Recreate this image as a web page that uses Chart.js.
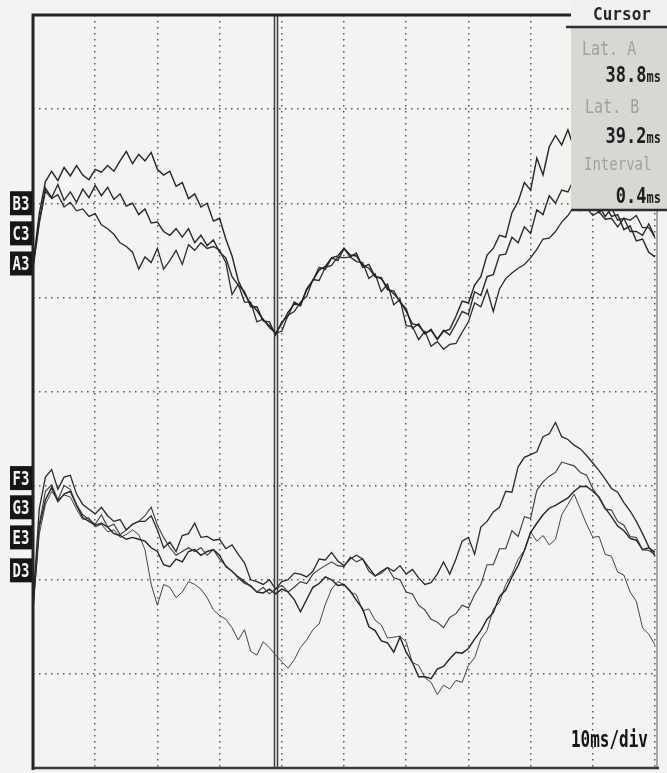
<!DOCTYPE html>
<html lang="en">
  <head>
    <meta charset="UTF-8" />
    <title>Evoked potentials - 10ms/div</title>
    <script src="https://cdn.jsdelivr.net/npm/chart.js"></script>
    <style>
      html,
      body {
        margin: 0;
        padding: 0;
        background: #f3f3f1;
      }

      #wrap {
        width: 667px;
        height: 773px;
      }
    </style>
  </head>
  <body>
    <div id="wrap"><canvas id="scope" width="667" height="773"></canvas></div>

    <script>
      // sweep time (ms) and trace amplitudes (screen divisions, 0 = bottom)
      const timeMs = [
        0, 1, 2, 3, 4, 5, 6, 7, 8, 9, 10, 11, 12, 13, 14, 15, 16, 17, 18, 19,
        20, 21, 22, 23, 24, 25, 26, 27, 28, 29, 30, 31, 32, 33, 34, 35, 36, 37,
        38, 39, 40, 41, 42, 43, 44, 45, 46, 47, 48, 49, 50, 51, 52, 53, 54, 55,
        56, 57, 58, 59, 60, 61, 62, 63, 64, 65, 66, 67, 68, 69, 70, 71, 72, 73,
        74, 75, 76, 77, 78, 79, 80, 81, 82, 83, 84, 85, 86, 87, 88, 89, 90, 91,
        92, 93, 94, 95, 96, 97, 98, 99, 100,
      ]

      const traceB3 = [
        5.34, 5.89, 6.23, 6.34, 6.24, 6.38, 6.29, 6.4, 6.3, 6.25, 6.36, 6.33,
        6.4, 6.34, 6.45, 6.55, 6.42, 6.52, 6.45, 6.54, 6.36, 6.3, 6.34, 6.18,
        6.22, 6.05, 6.1, 5.96, 6.0, 5.81, 5.84, 5.62, 5.44, 5.18,
        5.04, 4.93, 4.86, 4.76, 4.7, 4.62, 4.72, 4.84, 4.93, 4.92, 5.08, 5.18,
        5.29, 5.33, 5.42, 5.44, 5.52, 5.45, 5.44, 5.34, 5.31, 5.22, 5.2, 5.1,
        5.04, 4.96, 4.85, 4.72, 4.7, 4.62, 4.65, 4.56, 4.64, 4.66,
        4.8, 4.96, 4.94, 5.13, 5.22, 5.45, 5.52, 5.66, 5.64, 5.9, 6.02, 6.22,
        6.14, 6.48, 6.3, 6.6, 6.72, 6.62, 6.78, 6.58, 6.44, 6.18, 6.04, 5.9,
        5.98, 5.86, 5.88, 5.72, 5.76, 5.6, 5.62, 5.48, 5.43,
      ]
      const traceC3 = [
        5.34, 5.81, 6.16, 6.06, 6.2, 6.03, 6.12, 6.01, 6.15, 6.06, 6.19, 6.08,
        6.17, 6.04, 6.1, 5.97, 6.0, 5.88, 5.94, 5.79, 5.8, 5.7, 5.66, 5.73,
        5.64, 5.73, 5.58, 5.66, 5.55, 5.61, 5.48, 5.42, 5.22, 5.13,
        5.06, 4.9, 4.9, 4.75, 4.74, 4.6, 4.74, 4.8, 4.95, 4.91, 5.09, 5.18,
        5.32, 5.3, 5.42, 5.39, 5.52, 5.43, 5.47, 5.32, 5.35, 5.22, 5.21, 5.08,
        5.07, 4.95, 4.88, 4.67, 4.72, 4.61, 4.66, 4.55, 4.65, 4.6,
        4.72, 4.85, 4.82, 5.06, 5.02, 5.22, 5.24, 5.45, 5.46, 5.64, 5.58, 5.75,
        5.68, 5.93, 5.88, 6.08, 6.0, 6.14, 6.12, 6.26, 6.12, 6.1, 5.96, 5.97,
        5.86, 5.95, 5.82, 5.84, 5.7, 5.7, 5.66, 5.78, 5.64,
      ]
      const traceA3 = [
        5.3, 5.78, 6.13, 6.05, 6.09, 5.96, 6.01, 5.92, 5.94, 5.86, 5.89, 5.77,
        5.73, 5.67, 5.58, 5.54, 5.48, 5.3, 5.43, 5.37, 5.52, 5.3, 5.39, 5.5,
        5.35, 5.56, 5.5, 5.58, 5.52, 5.54, 5.5, 5.37, 5.03, 5.14,
        4.95, 4.95, 4.74, 4.77, 4.68, 4.62, 4.64, 4.81, 4.85, 4.95, 5.01, 5.19,
        5.18, 5.32, 5.34, 5.43, 5.42, 5.43, 5.38, 5.37, 5.2, 5.25, 5.06, 5.14,
        4.92, 4.98, 4.7, 4.69, 4.55, 4.64, 4.48, 4.53, 4.45, 4.5,
        4.51, 4.63, 4.74, 4.94, 4.9, 5.08, 4.85, 5.09, 5.2, 5.26, 5.31, 5.35,
        5.42, 5.51, 5.62, 5.63, 5.7, 5.8, 5.87, 5.97, 5.92, 5.95, 5.87, 5.91,
        5.83, 5.84, 5.75, 5.84, 5.82, 5.87, 5.74, 5.74, 5.64,
      ]

      const traceF3 = [
        1.74, 2.75, 3.09, 3.17, 2.96, 3.09, 3.11, 2.91, 2.8, 2.75, 2.7, 2.77,
        2.68, 2.62, 2.64, 2.53, 2.59, 2.62,
        2.62, 2.68, 2.53, 2.34, 2.4, 2.3, 2.47, 2.49, 2.6, 2.45, 2.46, 2.42,
        2.43, 2.33, 2.37, 2.27, 2.18, 2.0, 1.98, 1.95, 2.0, 1.9, 1.98, 2.0,
        2.07, 2.06, 2.03, 2.09, 2.22, 2.21, 2.29, 2.2,
        2.15, 2.22, 2.26, 2.22, 2.13, 2.04, 2.09, 2.13, 2.09, 2.15, 2.06, 2.11,
        2.02, 1.95, 1.97, 2.06, 2.19, 2.06, 2.22, 2.41, 2.45, 2.27, 2.56, 2.62,
        2.72, 2.77, 2.94, 2.93, 3.2, 3.3, 3.33, 3.36, 3.52, 3.55, 3.67, 3.52,
        3.49, 3.43, 3.39, 3.32, 3.24, 3.16, 3.07, 2.97, 2.93, 2.82, 2.73, 2.62,
        2.49, 2.35, 2.25,
      ]
      const traceG3 = [
        1.71, 2.59, 2.94, 3.01, 2.85, 3.0, 2.96, 2.8, 2.69, 2.64, 2.59, 2.69,
        2.56, 2.59, 2.48, 2.53, 2.59, 2.62,
        2.68, 2.77, 2.58, 2.45, 2.34, 2.26, 2.3, 2.34, 2.3, 2.34, 2.26, 2.32,
        2.22, 2.15, 2.09, 2.02, 1.96, 1.94, 1.87, 1.92, 1.85, 1.9, 1.94, 1.87,
        1.92, 1.98, 1.96, 2.06, 2.11, 2.15, 2.19, 2.15,
        2.14, 2.24, 2.19, 2.22, 2.09, 2.04, 2.07, 2.13, 2.02, 2.0, 1.87, 1.85,
        1.73, 1.68, 1.58, 1.55, 1.49, 1.6, 1.64, 1.73, 1.7, 1.84, 1.95, 2.16,
        2.16, 2.33, 2.33, 2.52, 2.46, 2.67, 2.65, 2.95, 3.04, 3.1, 3.14, 3.25,
        3.23, 3.21, 3.14, 3.11, 2.97, 2.87, 2.75, 2.74, 2.62, 2.58, 2.46, 2.45,
        2.32, 2.31, 2.27,
      ]
      const traceE3 = [
        1.7, 2.56, 2.85, 2.98, 2.83, 2.91, 2.94, 2.79, 2.66, 2.62, 2.58, 2.6,
        2.56, 2.49, 2.47, 2.43, 2.45, 2.43,
        2.41, 2.34, 2.3, 2.16, 2.14, 2.22, 2.19, 2.3, 2.32, 2.26, 2.3, 2.32,
        2.26, 2.14, 2.09, 2.03, 1.98, 1.93, 1.87, 1.86, 1.9, 1.85, 1.9, 1.87,
        1.79, 1.66, 1.79, 1.92, 1.96, 2.03, 2.0, 1.94,
        1.95, 1.88, 1.78, 1.69, 1.5, 1.46, 1.35, 1.33, 1.23, 1.39, 1.23, 1.12,
        0.97, 0.97, 0.95, 1.05, 1.08, 1.16, 1.23, 1.22, 1.27, 1.37, 1.46, 1.58,
        1.65, 1.82, 1.89, 2.03, 2.15, 2.31, 2.5, 2.6, 2.69, 2.76, 2.79, 2.83,
        2.87, 2.94, 2.99, 2.99, 2.94, 2.88, 2.76, 2.67, 2.57, 2.52, 2.44, 2.42,
        2.32, 2.34, 2.29,
      ]
      const traceD3 = [
        1.68, 2.48, 2.8, 2.94, 2.85, 2.9, 2.88, 2.75, 2.64, 2.66, 2.56, 2.59,
        2.51, 2.53, 2.45, 2.48, 2.53, 2.48,
        2.32, 1.95, 1.73, 1.95, 1.92, 1.81, 1.87, 1.98, 1.95, 1.9, 1.81, 1.68,
        1.62, 1.58, 1.49, 1.36, 1.47, 1.24, 1.2, 1.34, 1.28, 1.2, 1.13, 1.06,
        1.15, 1.28, 1.36, 1.47, 1.53, 1.74, 1.9, 1.98,
        1.95, 1.87, 1.84, 1.67, 1.69, 1.57, 1.52, 1.38, 1.39, 1.4, 1.34, 1.12,
        1.09, 0.96, 0.91, 0.78, 0.88, 0.84, 0.93, 0.91, 1.09, 1.17, 1.37, 1.46,
        1.69, 1.76, 1.95, 2.06, 2.22, 2.31, 2.51, 2.41, 2.47, 2.37, 2.43, 2.69,
        2.8, 2.91, 2.75, 2.59, 2.45, 2.46, 2.27, 2.25, 2.08, 2.05, 1.87, 1.77,
        1.49, 1.42, 1.31,
      ]

      const upperChannels = ['B3', 'C3', 'A3']
      const lowerChannels = ['F3', 'G3', 'E3', 'D3']
      const cursorMs = [38.8, 39.2]
      const msPerDiv = 10

      // where each channel tag sits on the left edge (divisions)
      const tagLevels = {
        B3: 6.0, C3: 5.68, A3: 5.36,
        F3: 3.08, G3: 2.77, E3: 2.45, D3: 2.1,
      }

      function tallText(ctx, text, x, y, size, color, align, stretch, bold) {
        ctx.save()
        ctx.translate(x, y)
        ctx.scale(1, stretch)
        ctx.font = (bold ? 'bold ' : '') + size + 'px "DejaVu Sans Mono"'
        ctx.fillStyle = color
        ctx.textAlign = align
        ctx.textBaseline = 'alphabetic'
        ctx.fillText(text, 0, 0)
        const w = ctx.measureText(text).width
        ctx.restore()
        return w
      }

      function readout(ctx, value, right, y) {
        const unitW = tallText(ctx, 'ms', right, y, 12, '#1e1e1e', 'right', 1.25, true)
        tallText(ctx, value.toFixed(1), right - unitW, y, 17, '#1e1e1e', 'right', 1.2, true)
      }

      const scopeOverlay = {
        id: 'scopeOverlay',
        beforeDraw(chart) {
          const { ctx, width, height } = chart
          ctx.save()
          ctx.fillStyle = '#f3f3f1'
          ctx.fillRect(0, 0, width, height)
          ctx.restore()
        },
        beforeDatasetsDraw(chart) {
          const { ctx, chartArea, scales } = chart
          ctx.save()
          ctx.strokeStyle = '#3e3e3e'
          ctx.lineWidth = 1.5
          cursorMs.forEach(ms => {
            const x = Math.round(scales.x.getPixelForValue(ms)) + 0.5
            ctx.beginPath()
            ctx.moveTo(x, chartArea.top)
            ctx.lineTo(x, chartArea.bottom)
            ctx.stroke()
          })
          ctx.restore()
        },
        afterDatasetsDraw(chart) {
          const { ctx, chartArea, scales } = chart
          const { left, top, right, bottom } = chartArea
          ctx.save()

          // frame
          ctx.strokeStyle = '#8c8c8c'
          ctx.lineWidth = 1.5
          ctx.beginPath()
          ctx.moveTo(right + 2, 210)
          ctx.lineTo(right + 2, bottom)
          ctx.stroke()

          ctx.strokeStyle = '#232323'
          ctx.lineWidth = 3
          ctx.beginPath()
          ctx.moveTo(left, bottom + 2)
          ctx.lineTo(left, top)
          ctx.lineTo(572, top)
          ctx.stroke()
          ctx.strokeStyle = '#3a3a3a'
          ctx.lineWidth = 2.5
          ctx.beginPath()
          ctx.moveTo(left, bottom)
          ctx.lineTo(right + 4, bottom)
          ctx.stroke()

          // cursor panel
          ctx.fillStyle = '#f0f0ee'
          ctx.fillRect(571, 0, 96, 27)
          ctx.fillStyle = '#d7d7d4'
          ctx.fillRect(571, 28, 96, 182)
          ctx.strokeStyle = '#2e2e2e'
          ctx.lineWidth = 2.5
          ctx.beginPath()
          ctx.moveTo(566, 27)
          ctx.lineTo(667, 27)
          ctx.moveTo(571, 210)
          ctx.lineTo(667, 210)
          ctx.stroke()

          tallText(ctx, 'Cursor', 622, 20, 16, '#262626', 'center', 1.15, true)
          tallText(ctx, 'Lat. A', 582, 55, 15, '#a0a0a0', 'left', 1.25, false)
          readout(ctx, cursorMs[0], 661, 82)
          tallText(ctx, 'Lat. B', 585, 113, 15, '#a0a0a0', 'left', 1.25, false)
          readout(ctx, cursorMs[1], 661, 143)
          tallText(ctx, 'Interval', 584, 170, 14, '#a0a0a0', 'left', 1.25, false)
          readout(ctx, cursorMs[1] - cursorMs[0], 661, 203)

          // sweep speed
          tallText(ctx, msPerDiv + 'ms/div', 648, 747, 16, '#151515', 'right', 1.45, true)

          // channel tags
          upperChannels.concat(lowerChannels).forEach(name => {
            const cy = scales.y.getPixelForValue(tagLevels[name])
            ctx.fillStyle = '#161616'
            ctx.fillRect(10, cy - 12, 22, 24)
            tallText(ctx, name, 21, cy + 7, 14, '#f4f4f4', 'center', 1.4, true)
          })

          ctx.restore()
        },
      }

      const lineStyle = (values, color, width) => ({
        data: timeMs.map((t, i) => ({ x: t, y: values[i] })),
        borderColor: color,
        borderWidth: width,
        pointRadius: 0,
        tension: 0,
        fill: false,
      })

      const gridStyle = {
        color: 'rgba(60, 60, 60, 0.85)',
        lineWidth: 1.5,
        drawTicks: false,
      }

      new Chart(document.getElementById('scope'), {
        type: 'line',
        data: {
          datasets: [
            lineStyle(traceB3, '#242424', 1.4),
            lineStyle(traceC3, '#2a2a2a', 1.4),
            lineStyle(traceA3, '#2a2a2a', 1.3),
            lineStyle(traceF3, '#2a2a2a', 1.3),
            lineStyle(traceG3, '#3a3a3a', 1.1),
            lineStyle(traceE3, '#242424', 1.4),
            lineStyle(traceD3, '#454545', 1.0),
          ],
        },
        options: {
          responsive: false,
          maintainAspectRatio: false,
          animation: false,
          layout: { padding: { left: 33, top: 15, right: 12, bottom: 5 } },
          plugins: {
            legend: { display: false },
            tooltip: { enabled: false },
          },
          scales: {
            x: {
              type: 'linear',
              min: 0,
              max: 100,
              ticks: { display: false, stepSize: msPerDiv },
              grid: gridStyle,
              border: { display: false, dash: [1.5, 4.5] },
            },
            y: {
              min: 0,
              max: 8,
              ticks: { display: false, stepSize: 1 },
              grid: gridStyle,
              border: { display: false, dash: [1.5, 4.5] },
            },
          },
        },
        plugins: [scopeOverlay],
      })
    </script>
  </body>
</html>
